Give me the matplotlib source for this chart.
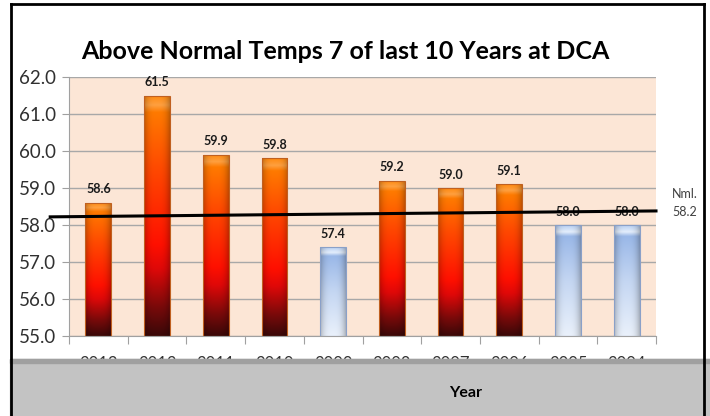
import numpy as np
import matplotlib.pyplot as plt
from matplotlib.patches import Rectangle
from matplotlib.colors import LinearSegmentedColormap
from matplotlib.lines import Line2D

years = ["2013", "2012", "2011", "2010", "2009", "2008", "2007", "2006", "2005", "2004"]
temps = [58.6, 61.5, 59.9, 59.8, 57.4, 59.2, 59.0, 59.1, 58.0, 58.0]
normal = 58.2
# the drawn normal line leans a little from left to right
normal_line = [58.22, 58.38]

plt.rcParams['font.family'] = ['Lato', 'DejaVu Sans']

fig = plt.figure(figsize=(7.1, 4.16), dpi=100)
ax = fig.add_axes([69/710, 1 - 336/416, 587/710, 259/416])
ax.set_facecolor('#fce6d6')

ymin, ymax = 55.0, 62.0
ax.set_ylim(ymin, ymax)
ax.set_xlim(-0.5, len(years) - 0.5)
ax.set_yticks(np.arange(55, 62.1, 1.0))
ax.set_yticklabels([f"{v:.1f}" for v in np.arange(55, 62.1, 1.0)], fontsize=13.5, color='#303030')
ax.grid(axis='y', color='#a8a8a8', lw=1.0)
ax.set_axisbelow(True)
for s in ['top', 'right']:
    ax.spines[s].set_visible(False)
ax.spines['left'].set_color('#a0a0a0')
ax.spines['bottom'].set_color('#a0a0a0')
ax.tick_params(axis='y', length=5, color='#a0a0a0', pad=4)

# ticks on category boundaries, labels in the middle
ax.set_xticks(np.arange(-0.5, len(years), 1.0))
ax.set_xticklabels([])
ax.tick_params(axis='x', length=6, color='#a0a0a0')
for i, y in enumerate(years):
    ax.text(i, 54.45, y, ha='center', va='top', fontsize=12, color='#303030', clip_on=False)

warm = LinearSegmentedColormap.from_list('warm', [
    (0.0, '#3a0808'), (0.12, '#7a0a0a'), (0.28, '#e00808'), (0.38, '#ff1000'),
    (0.7, '#ff4a00'), (0.93, '#ff7a00'), (0.96, '#ffa040'), (1.0, '#ff8a10')])
cool = LinearSegmentedColormap.from_list('cool', [
    (0.0, '#eaf1fb'), (0.5, '#c4d6f2'), (0.9, '#9ab8e8'), (0.94, '#e4eefc'), (1.0, '#b8cff2')])

w = 0.44
bars = ax.bar(range(len(years)), [t - ymin for t in temps], bottom=ymin, width=w,
              color='none', edgecolor='none', zorder=2)
grad = np.linspace(0, 1, 256).reshape(-1, 1)
side = 1 - 0.25 * np.abs(np.linspace(-1, 1, 64)) ** 3
for i, (b, t) in enumerate(zip(bars, temps)):
    cmap = warm if t > normal else cool
    rgb = cmap(grad)[:, :, :3] * np.ones((256, 64, 1))
    rgb = rgb * side.reshape(1, -1, 1)
    x0 = i - w / 2
    im = ax.imshow(rgb, origin='lower', extent=[x0, x0 + w, ymin, t],
                   aspect='auto', zorder=2, interpolation='bilinear')
    im.set_clip_path(b)
    edge = '#c06020' if t > normal else '#8aa0c8'
    ax.add_patch(Rectangle((x0, ymin), w, t - ymin, fill=False, ec=edge, lw=0.8, zorder=3))
    ax.text(i, t + 0.2, f"{t:.1f}", ha='center', va='bottom', fontsize=9,
            fontweight='bold', color='#1a1a1a', zorder=4)

ax.set_xlim(-0.5, len(years) - 0.5)
ax.set_ylim(ymin, ymax)

ax.plot([-0.82, len(years) - 0.5], normal_line, color='black', lw=2.2, zorder=5, clip_on=False)
fig.text(685/710, 1 - 203/416, f"Nml.\n{normal:.1f}", ha='center', va='center', fontsize=9,
         color='#404040', linespacing=1.6)

fig.suptitle("Above Normal Temps 7 of last 10 Years at DCA", x=0.487, y=0.905,
             fontsize=18, fontweight='bold', color='black')

# grey band over the bottom, covering the cut axis labels
fig.patches.append(Rectangle((10/710, 0), 1, 57/416, transform=fig.transFigure,
                             color='#c3c3c3', zorder=10))
fig.patches.append(Rectangle((10/710, 53/416), 1, 4/416, transform=fig.transFigure,
                             color='#a0a0a0', zorder=11))
fig.text(466/710, 1 - 393/416, "Year", ha='center', va='center', fontsize=11.5,
         fontweight='bold', color='black', zorder=12)

# black frame on the left, top and right
for xs, ys in [([11/710, 11/710], [0, 1 - 4/416]),
               ([11/710, 704/710], [1 - 4/416, 1 - 4/416]),
               ([704/710, 704/710], [0, 1 - 4/416])]:
    fig.add_artist(Line2D(xs, ys, transform=fig.transFigure, color='black', lw=2, zorder=13))

fig.savefig("out.png", dpi=100)
